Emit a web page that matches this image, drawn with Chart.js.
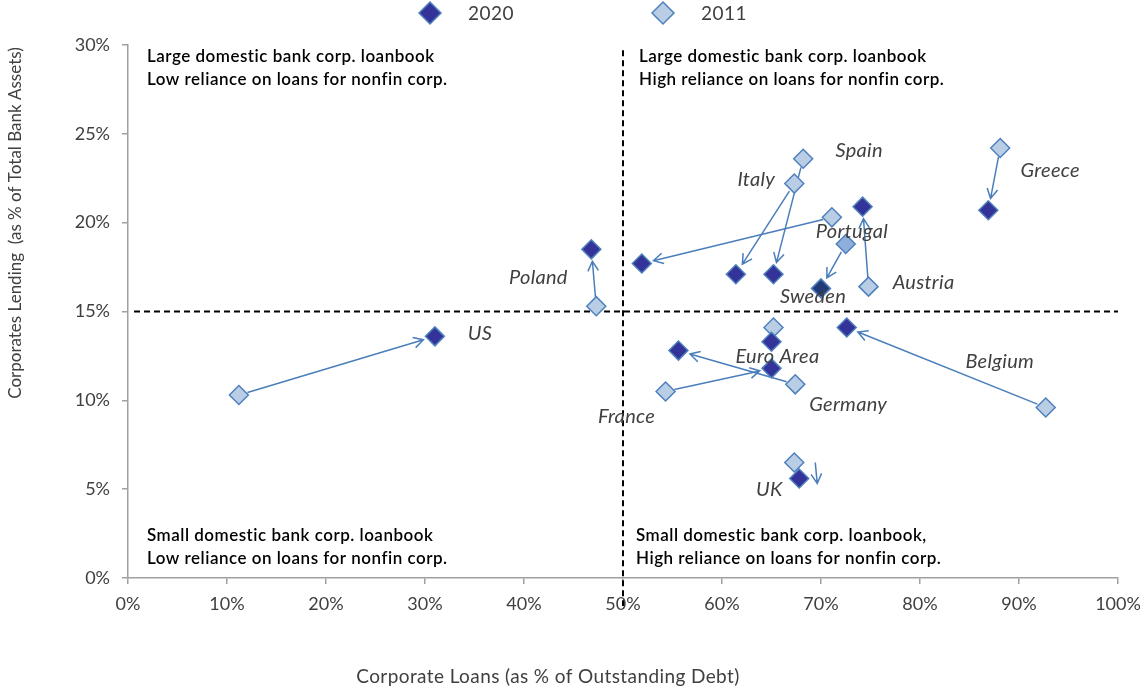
<!DOCTYPE html>
<html>
<head>
<meta charset="utf-8">
<title>Corporate lending vs corporate loans, 2011 and 2020</title>
<script src="https://cdn.jsdelivr.net/npm/chart.js@4.4.1/dist/chart.umd.min.js"></script>
<style>
  html, body { margin: 0; background: #fff; }
  #wrap { width: 1140px; height: 689px; }
</style>
</head>
<body>
<div id="wrap"><canvas id="chart" width="1140" height="689"></canvas></div>
<script>
// Corporate loans (% of outstanding debt) vs corporate lending (% of total bank assets)
const countries = ['US', 'Poland', 'Portugal', 'Italy', 'Spain', 'Austria', 'Sweden',
    'Greece', 'Belgium', 'Euro Area', 'Germany', 'France', 'UK'];
const loans2020 = [31.0, 46.8, 51.9, 61.4, 65.2, 74.2, 70.0, 86.9, 72.6, 65.0, 55.6, 65.0, 67.8];
const lending2020 = [13.6, 18.5, 17.7, 17.1, 17.1, 20.9, 16.3, 20.7, 14.1, 13.3, 12.8, 11.8, 5.6];
const loans2011 = [11.2, 47.3, 71.1, 67.3, 68.2, 74.8, 72.5, 88.1, 92.7, 65.2, 67.4, 54.3, 67.3];
const lending2011 = [10.3, 15.3, 20.3, 22.2, 23.6, 16.4, 18.8, 24.2, 9.6, 14.1, 10.9, 10.5, 6.5];
const xTicks = [0, 10, 20, 30, 40, 50, 60, 70, 80, 90, 100];
const yTicks = [0, 5, 10, 15, 20, 25, 30];
const splitX = 50;
const splitY = 15;

const quadrantText = {
    tl: ['Large domestic bank corp. loanbook', 'Low reliance on loans for nonfin corp.'],
    tr: ['Large domestic bank corp. loanbook', 'High reliance on loans for nonfin corp.'],
    bl: ['Small domestic bank corp. loanbook', 'Low reliance on loans for nonfin corp.'],
    br: ['Small domestic bank corp. loanbook,', 'High reliance on loans for nonfin corp.'],
};

// where each country name sits, relative to one of its two points
const labelPlace = {
    'US': ['2020', 45, -3],
    'Poland': ['2020', -53, 28],
    'Portugal': ['2011', 20, 14],
    'Italy': ['2011', -38, -4],
    'Spain': ['2011', 56, -8],
    'Austria': ['2011', 55, -4],
    'Sweden': ['2020', -8, 8],
    'Greece': ['2011', 50, 23],
    'Belgium': ['2011', -46, -46],
    'Euro Area': ['2020', 6, 15],
    'Germany': ['2011', 53, 20],
    'France': ['2011', -39, 25],
    'UK': ['2020', -30, 11],
};

const FONT = 'Lato, "Open Sans", sans-serif';
const colors = {
    dark: '#333399',
    light: '#b9cde5',
    edge: '#4f81bd',
    arrow: '#4a7ebb',
    text: '#404040',
    axis: '#a0a0a0',
};

const fill2020 = countries.map(c => (c === 'Sweden' ? '#1f3b78' : colors.dark));
const fill2011 = countries.map(c => (c === 'Sweden' ? '#8eaedb' : colors.light));

function drawArrow(ctx, x1, y1, x2, y2, trimStart, trimEnd) {
    const ang = Math.atan2(y2 - y1, x2 - x1);
    const sx = x1 + Math.cos(ang) * trimStart;
    const sy = y1 + Math.sin(ang) * trimStart;
    const ex = x2 - Math.cos(ang) * trimEnd;
    const ey = y2 - Math.sin(ang) * trimEnd;
    const head = 11;
    const spread = 0.5;
    ctx.beginPath();
    ctx.moveTo(sx, sy);
    ctx.lineTo(ex, ey);
    ctx.moveTo(ex - head * Math.cos(ang - spread), ey - head * Math.sin(ang - spread));
    ctx.lineTo(ex, ey);
    ctx.lineTo(ex - head * Math.cos(ang + spread), ey - head * Math.sin(ang + spread));
    ctx.stroke();
}

function diamond(ctx, x, y, r, fill) {
    ctx.beginPath();
    ctx.moveTo(x - r, y);
    ctx.lineTo(x, y - r);
    ctx.lineTo(x + r, y);
    ctx.lineTo(x, y + r);
    ctx.closePath();
    ctx.fillStyle = fill;
    ctx.fill();
    ctx.lineWidth = 1.5;
    ctx.strokeStyle = colors.edge;
    ctx.stroke();
}

const overlay = {
    id: 'overlay',
    beforeDatasetsDraw(chart) {
        const { ctx, chartArea, scales } = chart;
        const xs = scales.x;
        const ys = scales.y;
        ctx.save();

        // quadrant split lines
        ctx.strokeStyle = '#000';
        ctx.lineWidth = 2;
        ctx.setLineDash([6, 4]);
        const px = xs.getPixelForValue(splitX);
        const py = ys.getPixelForValue(splitY);
        ctx.beginPath();
        ctx.moveTo(chartArea.left + 6, py);
        ctx.lineTo(chartArea.right, py);
        ctx.moveTo(px, ys.getPixelForValue(29.7));
        ctx.lineTo(px, chartArea.bottom + 28);
        ctx.stroke();
        ctx.setLineDash([]);

        // 2011 -> 2020 arrows
        const m20 = chart.getDatasetMeta(0).data;
        const m11 = chart.getDatasetMeta(1).data;
        ctx.strokeStyle = colors.arrow;
        ctx.lineWidth = 1.5;
        countries.forEach((c, i) => {
            const a = m11[i];
            const b = m20[i];
            if (c === 'Euro Area') {
                return;
            }
            if (c === 'UK') {
                // drawn beside the points, the two diamonds nearly overlap
                drawArrow(ctx, a.x + 21, a.y, b.x + 18, b.y + 5, 0, 0);
                return;
            }
            drawArrow(ctx, a.x, a.y, b.x, b.y, 9, 12);
        });
        ctx.restore();
    },
    afterDraw(chart) {
        const { ctx, chartArea, scales } = chart;
        const xs = scales.x;
        const px = xs.getPixelForValue(splitX);
        ctx.save();

        // quadrant captions
        ctx.fillStyle = '#000';
        ctx.font = '600 17px ' + FONT;
        ctx.letterSpacing = '0.5px';
        ctx.textAlign = 'left';
        ctx.textBaseline = 'middle';
        const put = (lines, x, y) => lines.forEach((t, k) => ctx.fillText(t, x, y + k * 23));
        put(quadrantText.tl, chartArea.left + 19, chartArea.top + 12);
        put(quadrantText.tr, px + 16, chartArea.top + 12);
        put(quadrantText.bl, chartArea.left + 19, chartArea.bottom - 42);
        put(quadrantText.br, px + 13, chartArea.bottom - 42);

        // country names
        const m20 = chart.getDatasetMeta(0).data;
        const m11 = chart.getDatasetMeta(1).data;
        ctx.fillStyle = colors.text;
        ctx.font = 'italic 20px ' + FONT;
        ctx.letterSpacing = '0.3px';
        ctx.textAlign = 'center';
        countries.forEach((c, i) => {
            const [yr, dx, dy] = labelPlace[c];
            const p = yr === '2020' ? m20[i] : m11[i];
            ctx.fillText(c, p.x + dx, p.y + dy);
        });

        // axis titles
        ctx.font = '19px ' + FONT;
        ctx.letterSpacing = '0.4px';
        ctx.fillText('Corporate Loans (as % of Outstanding Debt)', 548, 677);
        ctx.save();
        ctx.translate(16, 223);
        ctx.rotate(-Math.PI / 2);
        ctx.font = '17px ' + FONT;
        ctx.letterSpacing = '0px';
        ctx.fillText('Corporates Lending  (as % of Total Bank Assets)', 0, 0);
        ctx.restore();

        // legend
        ctx.font = '19px ' + FONT;
        ctx.letterSpacing = '0.5px';
        ctx.textAlign = 'left';
        chart.data.datasets.forEach((ds, i) => {
            const cx = i === 0 ? 430 : 663;
            diamond(ctx, cx, 13, 11, ds.backgroundColor);
            ctx.fillStyle = colors.text;
            ctx.fillText(ds.label, cx + 38, 14);
        });
        ctx.restore();
    },
};

const pts = (xs, ys) => xs.map((x, i) => ({ x, y: ys[i] }));

new Chart(document.getElementById('chart'), {
    type: 'scatter',
    data: {
        datasets: [
            {
                label: '2020',
                data: pts(loans2020, lending2020),
                backgroundColor: colors.dark,
                pointBackgroundColor: fill2020,
                pointBorderColor: colors.edge,
                pointBorderWidth: 1.5,
                pointStyle: 'rectRot',
                pointRadius: 9.5,
                pointHoverRadius: 9.5,
            },
            {
                label: '2011',
                data: pts(loans2011, lending2011),
                backgroundColor: colors.light,
                pointBackgroundColor: fill2011,
                pointBorderColor: colors.edge,
                pointBorderWidth: 1.5,
                pointStyle: 'rectRot',
                pointRadius: 9.5,
                pointHoverRadius: 9.5,
            },
        ],
    },
    options: {
        responsive: false,
        animation: false,
        layout: { padding: { top: 45, right: 22, left: 0, bottom: 0 } },
        plugins: {
            legend: { display: false },
            tooltip: { enabled: false },
        },
        scales: {
            x: {
                type: 'linear',
                min: 0,
                max: 100,
                afterBuildTicks: (s) => { s.ticks = xTicks.map(v => ({ value: v })); },
                afterFit: (s) => {
                    s.height = 111;
                    s.paddingLeft = 0;
                    s.paddingRight = 0;
                },
                grid: { drawOnChartArea: false, drawTicks: true, tickLength: 6, color: colors.axis, lineWidth: 1.5 },
                border: { color: colors.axis, width: 1.5 },
                ticks: {
                    padding: 9,
                    color: colors.text,
                    font: { family: FONT, size: 18 },
                    callback: (v) => v + '%',
                },
            },
            y: {
                type: 'linear',
                min: 0,
                max: 30,
                afterBuildTicks: (s) => { s.ticks = yTicks.map(v => ({ value: v })); },
                afterFit: (s) => { s.width = 128; },
                grid: { drawOnChartArea: false, drawTicks: true, tickLength: 6, color: colors.axis, lineWidth: 1.5 },
                border: { color: colors.axis, width: 1.5 },
                ticks: {
                    padding: 12,
                    color: colors.text,
                    font: { family: FONT, size: 18 },
                    callback: (v) => v + '%',
                },
            },
        },
    },
    plugins: [overlay],
});
</script>
</body>
</html>
